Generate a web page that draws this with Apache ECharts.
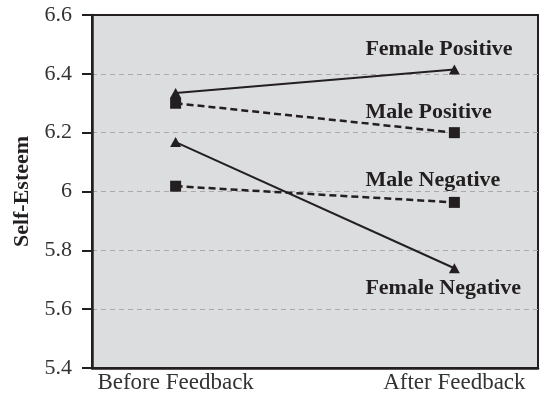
<!DOCTYPE html>
<html>
<head>
<meta charset="utf-8">
<script src="https://cdn.jsdelivr.net/npm/echarts@6/dist/echarts.min.js"></script>
<style>
  html, body { margin: 0; padding: 0; background: #ffffff; }
  #chart { width: 542px; height: 398px; }
</style>
</head>
<body>
<div id="chart"></div>
<script>
// Mean self-esteem before and after feedback, by gender and feedback type
const categories = ['Before Feedback', 'After Feedback'];
const femalePositive = [6.335, 6.415];
const malePositive = [6.30, 6.20];
const maleNegative = [6.018, 5.963];
const femaleNegative = [6.168, 5.739];
const yTicks = [5.4, 5.6, 5.8, 6, 6.2, 6.4, 6.6];

const ink = '#231f20';
const serif = '"Liberation Serif", "DejaVu Serif", serif';

function pairs(values) {
  return values.map((v, i) => [i, v]);
}

function seriesFor(name, values, symbol, dashed, labelPos, dy) {
  const data = pairs(values);
  data[data.length - 1] = {
    value: data[data.length - 1],
    label: {
      show: true,
      formatter: name,
      position: labelPos,
      align: 'left',
      offset: [-89, dy],
      fontFamily: serif,
      fontWeight: 'bold',
      fontSize: 22,
      color: ink
    }
  };
  return {
    name: name,
    type: 'line',
    data: data,
    symbol: symbol,
    symbolSize: symbol === 'triangle' ? [11, 10] : 11,
    showSymbol: true,
    itemStyle: { color: ink },
    lineStyle: dashed
      ? { color: ink, width: 2.5, type: [7, 4] }
      : { color: ink, width: 2 },
    animation: false,
    z: 3
  };
}

const chart = echarts.init(document.getElementById('chart'), null, { renderer: 'canvas' });
chart.setOption({
  animation: false,
  grid: {
    left: 92, right: 4, top: 15, bottom: 30,
    outerBoundsMode: 'none',
    containLabel: false,
    show: true,
    backgroundColor: '#dcdddf',
    borderColor: ink,
    borderWidth: 2
  },
  xAxis: {
    type: 'value',
    min: -0.3,
    max: 1.3,
    axisLine: { show: true, onZero: false, lineStyle: { color: ink, width: 2.5 } },
    axisTick: { show: false },
    splitLine: { show: false },
    axisLabel: {
      customValues: [0, 1],
      formatter: v => categories[Math.round(v)] || '',
      fontFamily: serif,
      fontSize: 23,
      color: '#333333',
      margin: 3
    }
  },
  yAxis: {
    type: 'value',
    min: yTicks[0],
    max: yTicks[yTicks.length - 1],
    interval: 0.2,
    name: 'Self-Esteem',
    nameLocation: 'middle',
    nameGap: 58,
    nameTextStyle: { fontFamily: serif, fontWeight: 'bold', fontSize: 22, color: ink },
    axisLine: { show: true, onZero: false, lineStyle: { color: ink, width: 2.5 } },
    axisTick: { show: true, inside: false, length: 10, lineStyle: { color: ink, width: 2 } },
    axisLabel: {
      formatter: v => String(parseFloat(v.toFixed(1))),
      fontFamily: serif,
      fontSize: 22,
      color: '#333333',
      margin: 20
    },
    splitLine: {
      show: true,
      showMinLine: false,
      showMaxLine: false,
      lineStyle: { color: '#a9a9a9', width: 1, type: [5, 4] }
    }
  },
  series: [
    seriesFor('Female Positive', femalePositive, 'triangle', false, 'top', 0.5),
    seriesFor('Male Positive', malePositive, 'rect', true, 'top', 1.5),
    seriesFor('Male Negative', maleNegative, 'rect', true, 'top', -0.5),
    seriesFor('Female Negative', femaleNegative, 'triangle', false, 'bottom', -0.5)
  ]
});
</script>
</body>
</html>
